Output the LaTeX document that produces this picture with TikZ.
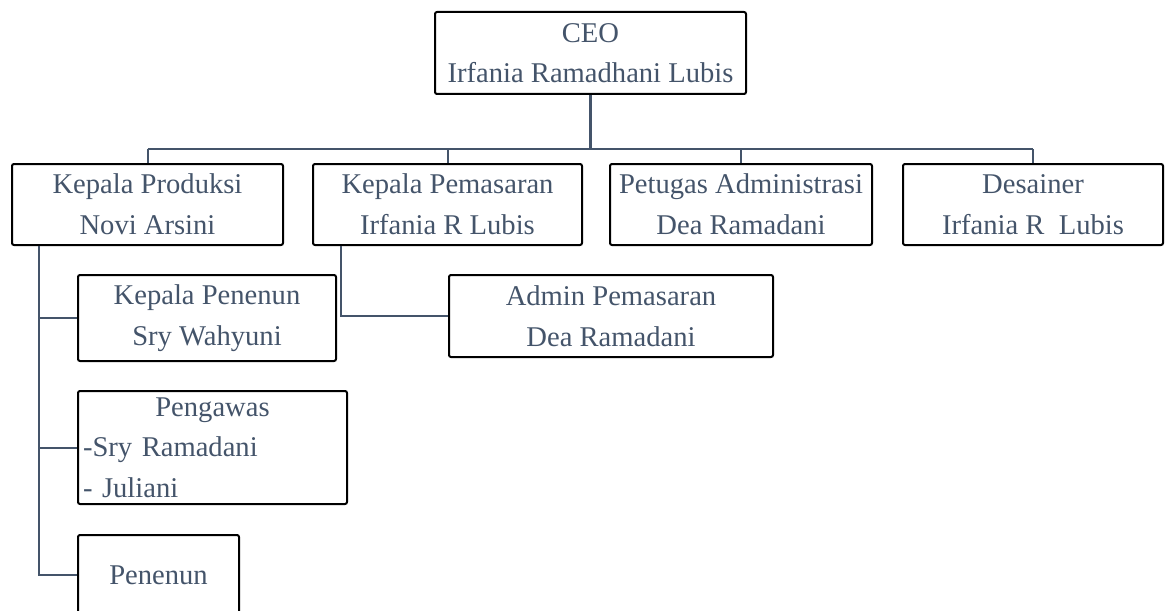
\documentclass[tikz,border=0pt]{standalone}
\usepackage{fontspec}
\setmainfont{Liberation Serif}
\usetikzlibrary{positioning}
\definecolor{TextSlate}{HTML}{44546A}

\begin{document}
\begin{tikzpicture}[x=0.5pt,y=-0.5pt,
    every node/.style={font=\fontsize{14.3}{20.3}\selectfont,text=TextSlate},
    orgbox/.style={draw=black,line width=1pt,rounded corners=1pt,align=center,inner sep=0pt},
    orglink/.style={draw=TextSlate,line width=1pt}]
  \useasboundingbox (0,0) rectangle (1165,610);
  \clip (0,0) rectangle (1165,610);
  % top
  \node[orgbox,minimum width=155.5pt,minimum height=41pt] (ceo) at (590.5,53) {CEO\\Irfania Ramadhani Lubis};
  % second row
  \node[orgbox,minimum width=135.5pt,minimum height=40.5pt] (prod) at (147.5,204.5) {Kepala Produksi\\Novi Arsini};
  \node[orgbox,minimum width=134.5pt,minimum height=40.5pt] (pemasaran) at (447.5,204.5) {Kepala Pemasaran\\Irfania R Lubis};
  \node[orgbox,minimum width=131pt,minimum height=40.5pt] (petugas) at (741,204.5) {Petugas Administrasi\\Dea Ramadani};
  \node[orgbox,minimum width=130pt,minimum height=40.5pt] (desainer) at (1033,204.5) {Desainer\\Irfania R\ \ Lubis};
  % under Kepala Produksi
  \node[orgbox,minimum width=129pt,minimum height=43pt] (kpn) at (207,318) {Kepala Penenun\\Sry Wahyuni};
  \node[orgbox,minimum width=134.5pt,minimum height=56.5pt,align=left,text width=129.5pt,inner xsep=2.5pt] (pengawas) at (212.5,447.5) {\makebox[\linewidth]{Pengawas}\\-Sry Ramadani\\- Juliani};
  \node[orgbox,minimum width=80.5pt,minimum height=40pt] (penenun) at (158.5,575) {Penenun};
  % under Kepala Pemasaran
  \node[orgbox,minimum width=162pt,minimum height=41pt] (adminpms) at (611,316) {Admin Pemasaran\\Dea Ramadani};

  % connectors
  \coordinate (busy) at (0,149);
  \coordinate (prodspine) at (39,0);
  \coordinate (pmsspine) at (341,0);
  \draw[orglink,line width=1.5pt] (ceo.south) -- (ceo.south |- busy);
  \draw[orglink,line width=1.3pt] (prod.north |- busy) -- (desainer.north |- busy);
  \draw[orglink] (prod.north) -- (prod.north |- busy);
  \draw[orglink] (pemasaran.north) -- (pemasaran.north |- busy);
  \draw[orglink] (petugas.north) -- (petugas.north |- busy);
  \draw[orglink] (desainer.north) -- (desainer.north |- busy);
  \draw[orglink] (prod.south -| prodspine) |- (penenun.west);
  \draw[orglink] (prodspine |- kpn.west) -- (kpn.west);
  \draw[orglink] (prodspine |- pengawas.west) -- (pengawas.west);
  \draw[orglink] (pemasaran.south -| pmsspine) |- (adminpms.west);
\end{tikzpicture}
\end{document}
